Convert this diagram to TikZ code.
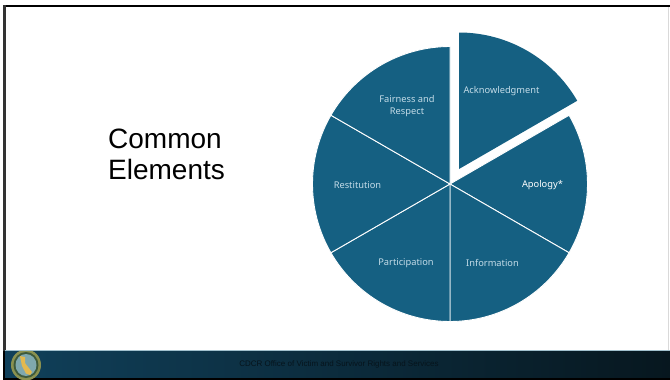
\documentclass[tikz,border=0pt]{standalone}
\usepackage{fontspec}
\setmainfont{Liberation Sans}
\newfontfamily\labelfont{Noto Sans}
\definecolor{slice}{HTML}{156082}
\definecolor{lab}{HTML}{C4DCE8}
\definecolor{bandL}{HTML}{10405A}
\definecolor{bandM}{HTML}{0E3348}
\definecolor{bandR}{HTML}{07171F}
\definecolor{foot}{HTML}{06141C}
\definecolor{seal}{HTML}{8A9150}
\definecolor{sealdark}{HTML}{3E5A3C}
\definecolor{sealin}{HTML}{7FA8AE}
\definecolor{sealgold}{HTML}{E3B94F}
\tikzset{
 wedge/.style={fill=slice,draw=white,line width=.9pt,line join=miter},
 lbl/.style={font=\labelfont\fontsize{9.3}{12}\selectfont,text=lab,align=center,inner sep=0pt},
 ttl/.style={font=\fontsize{28}{31}\selectfont,text=black,align=left,inner sep=0pt,anchor=west},
 foottxt/.style={font=\fontsize{8}{9}\selectfont,text=foot,inner sep=0pt},
}
\newcommand{\pieslice}[3]{\path[wedge] (#1) -- +(#2:137.5) arc[start angle=#2,end angle=#3,radius=137.5] -- cycle;}
\begin{document}
\begin{tikzpicture}[x=1pt,y=-1pt]
\useasboundingbox (0,0) rectangle (670,380);
\fill[white] (0,0) rectangle (670,380);
% frame
\fill[black] (3,5) rectangle (670,7);
\fill[black!80] (3,5) rectangle (6,352);
\fill[black!15] (667.5,7) rectangle (668.2,350);
% band
\shade[left color=bandL,middle color=bandM,right color=bandR] (5,351) rectangle (670,378);
\fill[black] (3,378) rectangle (670,380);
\fill[black] (3,351) rectangle (5,380);
\draw[white!60!slice,line width=.7pt] (5,350.5) -- (670,350.5);
% seal
\begin{scope}
\clip (0,351) rectangle (670,379);
\fill[seal] (26,365) ellipse[x radius=15,y radius=15.5];
\fill[sealdark] (26,365) ellipse[x radius=12.5,y radius=13];
\fill[sealin] (26,365) ellipse[x radius=10.5,y radius=11];
\fill[sealgold] (20,356) -- (25,357) -- (25,363) -- (32,372) -- (30,375) -- (26,373.5) -- (22,366) -- cycle;
\end{scope}
% pie
\coordinate (c) at (450,184);
\coordinate (ca) at (459,169);
\pieslice{c}{-30}{30}
\pieslice{c}{30}{90}
\pieslice{c}{90}{150}
\pieslice{c}{150}{210}
\pieslice{c}{210}{270}
\path[wedge,draw=none] (ca) -- +(-90:136.5) arc[start angle=-90,end angle=-30,radius=136.5] -- cycle;
% labels
\node[lbl] (ack) at (501.5,91.5) {Acknowledgment};
\node[lbl,text=white] (apo) at (542.5,185) {Apology*};
\node[lbl] (inf) at (492.5,262.5) {Information};
\node[lbl] (par) at (406,263) {Participation};
\node[lbl] (res) at (357.5,185) {Restitution};
\node[lbl] (fai) at (407,106.5) {Fairness and\\Respect};
\node[ttl] (title) at (108,154) {Common\\Elements};
\node[foottxt] (footer) at (339,364.5) {CDCR Office of Victim and Survivor Rights and Services};
\end{tikzpicture}
\end{document}
